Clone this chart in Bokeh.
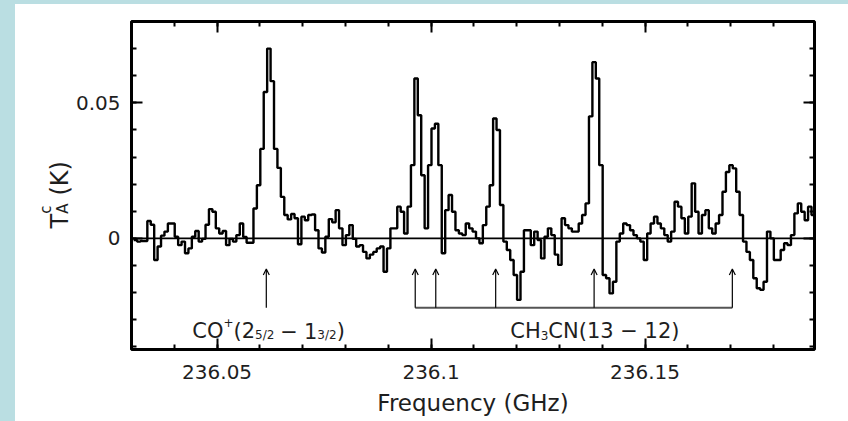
import math
from bokeh.plotting import figure
from bokeh.models import (Range1d, LinearAxis, FixedTicker, Span, Label, Arrow, OpenHead,
                          Spacer, CustomLabelingPolicy)
from bokeh.layouts import row, column
from bokeh.embed import file_html
from bokeh.resources import INLINE
from bokeh.core.properties import value

# ---------------- data ----------------
freq_start = 236.0305      # GHz, left edge of first channel
chan_width = 0.0008        # GHz
ta = [
    -0.0006, -0.0012, -0.0010, -0.0010, 0.0064, 0.0050, -0.0080, -0.0030, 0.0010, 0.0025,
    0.0055, 0.0055, 0.0006, -0.0025, -0.0012, -0.0055, -0.0037, 0.0006, 0.0027, -0.0012,
    -0.0002, 0.0050, 0.0108, 0.0098, 0.0037, 0.0018, 0.0027, -0.0025, -0.0002, -0.0012,
    0.0012, 0.0055, 0.0005, -0.0016, -0.0016, 0.0110, 0.0196, 0.0330, 0.0540, 0.0700,
    0.0580, 0.0330, 0.0260, 0.0153, 0.0086, 0.0070, 0.0090, 0.0074, -0.0022, 0.0080,
    0.0067, 0.0086, 0.0088, 0.0030, -0.0037, -0.0052, 0.0006, 0.0071, 0.0059, 0.0104,
    0.0037, -0.0025, 0.0012, 0.0049, -0.0002, -0.0030, -0.0025, -0.0050, -0.0074, -0.0060,
    -0.0050, -0.0037, -0.0030, -0.0123, -0.0037, 0.0037, 0.0037, 0.0117, 0.0098, 0.0018,
    0.0117, 0.0270, 0.0590, 0.0454, 0.0233, 0.0037, 0.0270, 0.0405, 0.0423, 0.0270,
    -0.0055, 0.0104, 0.0160, 0.0098, 0.0030, 0.0018, 0.0012, 0.0055, 0.0037, 0.0025,
    0.0000, -0.0018, 0.0049, 0.0117, 0.0196, 0.0442, 0.0400, 0.0123, -0.0012, -0.0043,
    -0.0080, -0.0135, -0.0227, -0.0123, 0.0030, 0.0030, -0.0025, 0.0025, -0.0006, -0.0074,
    0.0006, 0.0037, 0.0012, -0.0060, -0.0098, 0.0074, 0.0049, 0.0037, 0.0025, 0.0025,
    0.0055, 0.0086, 0.0129, 0.0450, 0.0650, 0.0590, 0.0270, -0.0135, -0.0147, -0.0203,
    -0.0160, -0.0012, 0.0018, 0.0055, 0.0049, 0.0030, 0.0012, 0.0000, -0.0012, -0.0080,
    0.0018, 0.0055, 0.0080, 0.0055, 0.0037, 0.0012, -0.0012, 0.0025, 0.0135, 0.0117,
    0.0074, 0.0018, 0.0080, 0.0203, 0.0098, 0.0018, 0.0086, 0.0104, 0.0037, 0.0018,
    0.0055, 0.0086, 0.0172, 0.0245, 0.0270, 0.0258, 0.0172, 0.0086, -0.0012, -0.0050,
    -0.0080, -0.0147, -0.0184, -0.0190, -0.0160, 0.0025, 0.0000, -0.0080, -0.0080, -0.0043,
    -0.0018, -0.0025, 0.0012, 0.0092, 0.0129, 0.0098, 0.0067, 0.0117, 0.0086,
]
cop_line = 236.0615                                          # CO+ (2_5/2 - 1_3/2)
ch3cn_lines = [236.0963, 236.1011, 236.1151, 236.1381, 236.1704]   # CH3CN(13-12)

x_major = [236.05, 236.1, 236.15]
x_major_labels = ["236.05", "236.1", "236.15"]
x_minor = [236.03, 236.04, 236.05, 236.06, 236.07, 236.08, 236.09, 236.1, 236.11,
           236.12, 236.13, 236.14, 236.15, 236.16, 236.17, 236.18]
y_major = [0, 0.05]
y_major_labels = ["0", "0.05"]
y_minor = [-0.04, -0.03, -0.02, -0.01, 0, 0.01, 0.02, 0.03, 0.04, 0.05, 0.06, 0.07, 0.08]

# ---------------- styling constants ----------------
FONT = "DejaVu Sans"
TXT = "#1e1e1e"
EDGE = "#badee2"
PAGE_W, PAGE_H = 848, 421
TOP_STRIP, LEFT_STRIP = 4, 15
FRAME_L, FRAME_R, FRAME_T, FRAME_B = 129, 814, 21, 349
SIDE_R = 72
ROW_H = PAGE_H - TOP_STRIP

W = {"C": .698, "O": .787, "H": .752, "N": .748, "T": .611, "A": .684, "K": .656,
     "c": .55, "+": .838, "(": .390, ")": .390, "/": .337, " ": .318, "\u2212": .838}
def width(txt, size):
    return sum(W.get(ch, .636) for ch in txt) * size

# ---------------- side strip with the rotated y label (page-pixel coordinates) ----------------
side = figure(width=SIDE_R - LEFT_STRIP, height=ROW_H,
              x_range=Range1d(LEFT_STRIP, SIDE_R),
              y_range=Range1d(PAGE_H - FRAME_B, PAGE_H - FRAME_T),
              output_backend="svg", toolbar_location=None,
              x_axis_location=None, y_axis_location=None,
              min_border_left=0, min_border_right=0,
              min_border_top=FRAME_T - TOP_STRIP, min_border_bottom=PAGE_H - FRAME_B)
side.grid.visible = False
side.outline_line_color = None
side.border_fill_color = "white"
side.background_fill_color = "white"

base_x, yy = 59, PAGE_H - 228
ylab = []
ylab.append(("T", 24, base_x, yy)); yy += width("T", 24)
ylab.append(("A", 15, base_x + 3, yy))
ylab.append(("c", 15, base_x - 14, yy)); yy += width("A", 15) + 8
ylab.append(("(K)", 24, base_x, yy))
for t, s, x, y in ylab:
    side.text(x=[x], y=[y], text=[t], angle=math.pi / 2, text_font=value(FONT),
              text_font_size=value(f"{s}px"), text_color=TXT,
              text_baseline="alphabetic", text_align="left")

# ---------------- main figure ----------------
p = figure(width=PAGE_W - SIDE_R, height=ROW_H,
           x_range=Range1d(236.0300, 236.1896), y_range=Range1d(-0.041, 0.080),
           output_backend="svg", toolbar_location=None,
           min_border_left=FRAME_L - SIDE_R, min_border_right=PAGE_W - FRAME_R,
           min_border_top=FRAME_T - TOP_STRIP, min_border_bottom=PAGE_H - FRAME_B)
p.grid.visible = False
p.outline_line_color = "black"
p.outline_line_width = 3
p.background_fill_color = "white"
p.border_fill_color = "white"

edges = [freq_start + chan_width * i for i in range(len(ta) + 1)]
p.step(x=edges, y=ta + [ta[-1]], mode="after", line_color="black", line_width=2.4)

p.add_layout(Span(location=0, dimension="width", line_color="black", line_width=1.6))

no_labels = CustomLabelingPolicy(code="for (const i of indices) indices.unset(i); return indices")

def style_axis(ax, ticks, minor, labels, show_labels):
    ax.ticker = FixedTicker(ticks=ticks, minor_ticks=minor)
    ax.axis_line_color = None
    ax.major_tick_in = 11
    ax.major_tick_out = 0
    ax.minor_tick_in = 5
    ax.minor_tick_out = 0
    ax.major_tick_line_width = 2
    ax.minor_tick_line_width = 2
    ax.major_tick_line_color = "black"
    ax.minor_tick_line_color = "black"
    if show_labels:
        ax.major_label_overrides = {t: l for t, l in zip(ticks, labels)}
        ax.major_label_text_font = FONT
        ax.major_label_text_font_size = "20px"
        ax.major_label_text_color = TXT
    else:
        ax.major_label_text_font_size = "1px"
        ax.major_label_standoff = 0
        ax.major_label_policy = no_labels

xb = p.xaxis[0]
yl = p.yaxis[0]
style_axis(xb, x_major, x_minor, x_major_labels, True)
style_axis(yl, y_major, y_minor, y_major_labels, True)
xb.major_label_standoff = 15
yl.major_label_standoff = 11

xb.axis_label = "Frequency (GHz)"
xb.axis_label_text_font = FONT
xb.axis_label_text_font_size = "23px"
xb.axis_label_text_font_style = "normal"
xb.axis_label_text_color = TXT
xb.axis_label_standoff = 8

xt = LinearAxis()
style_axis(xt, x_major, x_minor, x_major_labels, False)
p.add_layout(xt, "above")
yr = LinearAxis()
style_axis(yr, y_major, y_minor, y_major_labels, False)
p.add_layout(yr, "right")

# ---------------- annotations ----------------
arrow_base, arrow_tip = -0.0256, -0.0113
for f in [cop_line] + ch3cn_lines:
    p.add_layout(Arrow(end=OpenHead(size=6, line_width=1.2, line_color="black"),
                       x_start=f, y_start=arrow_base, x_end=f, y_end=arrow_tip,
                       line_color="black", line_width=1.2))
p.segment(x0=[ch3cn_lines[0]], x1=[ch3cn_lines[-1]], y0=[arrow_base], y1=[arrow_base],
          line_color="#555555", line_width=2)

def run(x, y, pieces):
    """pieces: (text, size, vertical shift px, extra gap after px)"""
    off = 0.0
    for txt, size, shift, gap in pieces:
        p.add_layout(Label(x=x, y=y, x_offset=off, y_offset=shift, text=txt,
                           text_font=FONT, text_font_size=f"{size}px", text_color=TXT,
                           text_baseline="alphabetic", text_align="left"))
        off += width(txt, size) + gap

BIG, SMALL = 21, 12
run(236.0442, -0.0343, [("CO", BIG, 0, 0), ("+", SMALL, 9, 0), ("(2", BIG, 0, 0),
                         ("5/2", SMALL, -4, 6), ("\u2212", BIG, 0, 6), ("1", BIG, 0, 0),
                         ("3/2", SMALL, -4, 0), (")", BIG, 0, 0)])
run(236.1185, -0.0343, [("CH", BIG, 0, 0), ("3", SMALL, -4, 0), ("CN(13 \u2212 12)", BIG, 0, 0)])

top_strip = Spacer(width=PAGE_W, height=TOP_STRIP, styles={"background-color": EDGE})
left_strip = Spacer(width=LEFT_STRIP, height=ROW_H, styles={"background-color": EDGE})
layout = column(top_strip, row(left_strip, side, p))
open("out.html", "w").write(file_html(layout, INLINE))
